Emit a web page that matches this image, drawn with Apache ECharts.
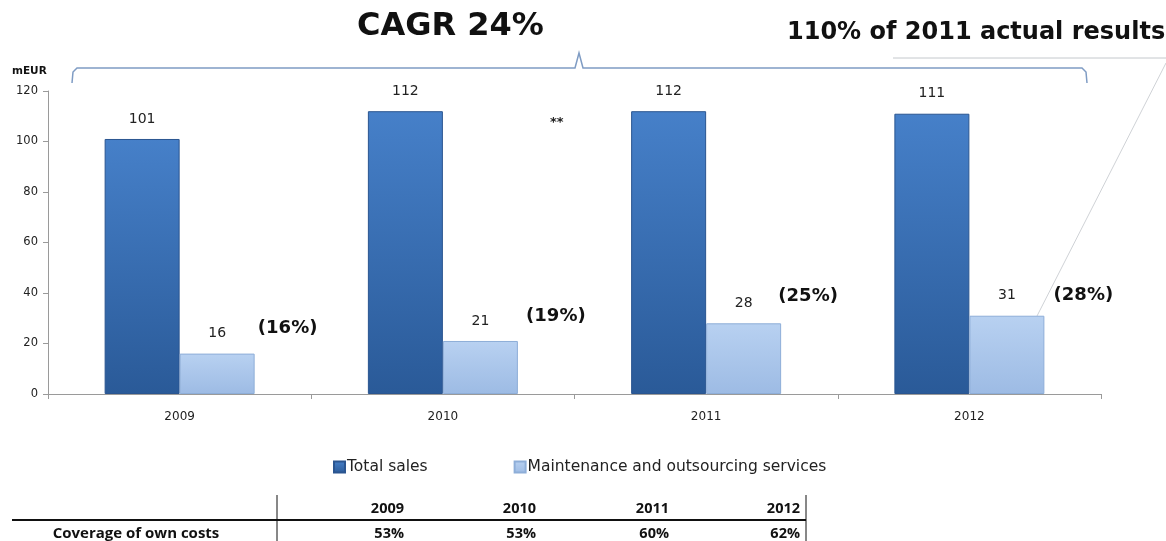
<!DOCTYPE html>
<html>
<head>
<meta charset="utf-8">
<script src="https://cdn.jsdelivr.net/npm/echarts@6/dist/echarts.min.js"></script>
<style>
  html, body { margin: 0; padding: 0; background: #fff; }
  #chart { width: 1166px; height: 541px; }
</style>
</head>
<body>
<div id="chart"></div>
<script>
  // data
  var years = ['2009', '2010', '2011', '2012'];
  var totalSales = [101, 112, 112, 111];
  var maintenance = [16, 21, 28, 31];
  var maintShare = ['(16%)', '(19%)', '(25%)', '(28%)'];
  var coverage = ['53%', '53%', '60%', '62%'];

  // layout only
  var shareOffsets = [[108, -25], [113, -25], [102, -27], [114, -20]];
  var tableCols = [404, 536, 669, 800];

  var chart = echarts.init(document.getElementById('chart'));
  var font = 'DejaVu Sans';
  var tableFont = 'Open Sans';

  var graphics = [
    // brace over the bars
    {
      type: 'polyline', silent: true,
      shape: { points: [[72, 83], [73, 72], [77, 68], [575, 68], [579, 53], [583, 68], [1082, 68], [1086, 72], [1087, 83]] },
      style: { stroke: '#7f9cc4', lineWidth: 1.5, fill: null }
    },
    { type: 'text', left: 357, top: 11, style: { text: 'CAGR 24%', font: 'bold 32px "' + font + '"', fill: '#111' } },
    { type: 'text', left: 787, top: 21, style: { text: '110% of 2011 actual results', font: 'bold 24px "' + font + '"', fill: '#111' } },
    { type: 'line', silent: true, shape: { x1: 893, y1: 58, x2: 1166, y2: 58 }, style: { stroke: '#c4c8cc', lineWidth: 1 } },
    { type: 'line', silent: true, shape: { x1: 1166, y1: 63, x2: 1037, y2: 316 }, style: { stroke: '#cfd2d6', lineWidth: 1 } },
    { type: 'text', left: 12, top: 66, style: { text: 'mEUR', font: 'bold 10.5px "' + font + '"', fill: '#111' } },
    { type: 'text', left: 550, top: 116, style: { text: '**', font: 'bold 13px "' + font + '"', fill: '#222' } },
    // table lines
    { type: 'line', silent: true, shape: { x1: 12, y1: 520, x2: 806, y2: 520 }, style: { stroke: '#111', lineWidth: 2 } },
    { type: 'line', silent: true, shape: { x1: 277, y1: 495, x2: 277, y2: 541 }, style: { stroke: '#111', lineWidth: 1 } },
    { type: 'line', silent: true, shape: { x1: 806, y1: 495, x2: 806, y2: 541 }, style: { stroke: '#111', lineWidth: 1 } },
    { type: 'text', x: 136, y: 534, style: { text: 'Coverage of own costs', font: 'bold 15px "' + tableFont + '"', fill: '#111', align: 'center', verticalAlign: 'middle' } }
  ];
  years.forEach(function (y, i) {
    graphics.push({ type: 'text', x: tableCols[i], y: 509, style: { text: y, font: 'bold 14.5px "' + tableFont + '"', fill: '#111', align: 'right', verticalAlign: 'middle' } });
    graphics.push({ type: 'text', x: tableCols[i], y: 534, style: { text: coverage[i], font: 'bold 14.5px "' + tableFont + '"', fill: '#111', align: 'right', verticalAlign: 'middle' } });
  });

  chart.setOption({
    animation: false,
    textStyle: { fontFamily: font },
    grid: { left: 48, right: 65, top: 91, bottom: 147, containLabel: false },
    legend: {
      data: ['Total sales', 'Maintenance and outsourcing services'],
      left: 333, top: 459, padding: 0,
      itemWidth: 11, itemHeight: 11, itemGap: 86,
      icon: 'rect',
      textStyle: { fontSize: 15.5, color: '#222', fontFamily: font, padding: [0, 0, 0, -3] }
    },
    xAxis: {
      type: 'category',
      data: years,
      axisLine: { lineStyle: { color: '#9a9a9a' } },
      axisTick: { show: true, length: 5, lineStyle: { color: '#9a9a9a' } },
      axisLabel: { fontSize: 12, color: '#222', margin: 17 }
    },
    yAxis: {
      type: 'value',
      min: 0, max: 120, interval: 20,
      axisLine: { show: true, lineStyle: { color: '#9a9a9a' } },
      axisTick: { show: true, length: 5, lineStyle: { color: '#9a9a9a' } },
      splitLine: { show: false },
      axisLabel: { fontSize: 11.5, color: '#222', margin: 10 }
    },
    series: [
      {
        name: 'Total sales',
        type: 'bar',
        data: totalSales,
        barWidth: 75,
        barGap: 0,
        itemStyle: {
          color: new echarts.graphic.LinearGradient(0, 0, 0, 1, [
            { offset: 0, color: '#4680c9' },
            { offset: 1, color: '#2a5a98' }
          ]),
          borderColor: '#2a5590', borderWidth: 1
        },
        label: { show: true, position: 'top', distance: 13, fontSize: 14, color: '#222' }
      },
      {
        name: 'Maintenance and outsourcing services',
        type: 'bar',
        data: maintenance,
        barWidth: 75,
        itemStyle: {
          color: new echarts.graphic.LinearGradient(0, 0, 0, 1, [
            { offset: 0, color: '#b8d1f1' },
            { offset: 1, color: '#9dbbe4' }
          ]),
          borderColor: '#8eaed8', borderWidth: 1
        },
        label: { show: true, position: 'top', distance: 13, fontSize: 14, color: '#222' }
      },
      {
        name: 'share',
        type: 'scatter',
        symbolSize: 0,
        silent: true,
        itemStyle: { opacity: 1 },
        data: maintenance.map(function (v, i) {
          return { value: v, label: { offset: shareOffsets[i] } };
        }),
        label: {
          show: true, position: 'inside',
          formatter: function (p) { return maintShare[p.dataIndex]; },
          fontSize: 18, fontWeight: 'bold', color: '#111'
        }
      }
    ],
    graphic: graphics
  });
</script>
</body>
</html>
